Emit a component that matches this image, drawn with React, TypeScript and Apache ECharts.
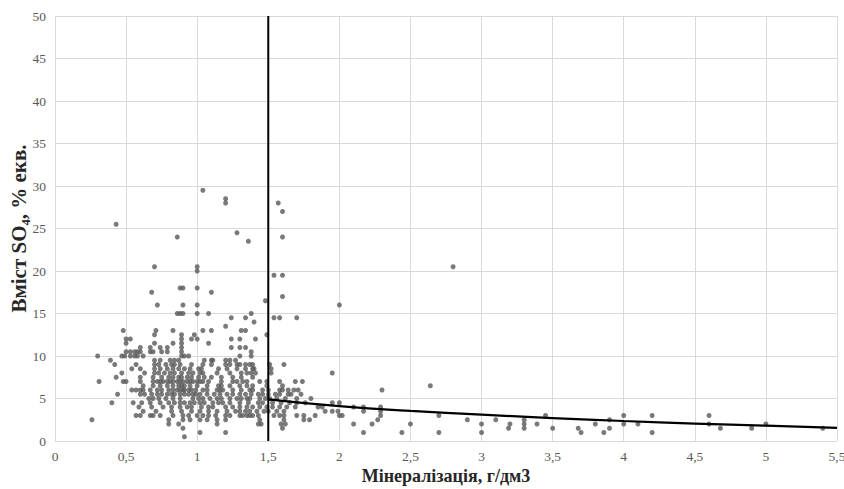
import React, { useEffect, useRef } from "react";
import * as echarts from "echarts";

// Tick settings
const xTicks = { min: 0, max: 5.5, interval: 0.5 };
const yTicks = { min: 0, max: 50, interval: 5 };

// Isolated high values [mineralization, SO4]
const highPoints: [number, number][] = [
  [1.04, 29.5], [1.2, 28.5], [1.2, 28], [1.57, 28], [1.6, 27],
  [0.43, 25.5], [1.28, 24.5], [0.86, 24], [1.6, 24], [1.36, 23.5],
  [0.7, 20.5], [1.0, 20.5], [2.8, 20.5], [1.0, 20], [1.54, 19.5], [1.6, 19.5],
];

// Main cluster, row by row: [SO4 value, mineralization values]
const clusterRows: [number, number[]][] = [
  [18, [0.88, 0.9, 1.0]],
  [17.5, [0.68, 1.1]],
  [17, [1.6]],
  [16.5, [1.48]],
  [16, [0.72, 0.9, 1.0, 2.0]],
  [15, [0.86, 0.88, 0.9, 1.0, 1.08, 1.38]],
  [14.5, [1.24, 1.34, 1.54, 1.58, 1.7]],
  [14, [1.4]],
  [13.5, [1.2]],
  [13, [0.48, 0.71, 0.83, 1.04, 1.1, 1.31, 1.34]],
  [12.5, [0.7, 0.89, 0.98, 1.49]],
  [12, [0.5, 0.53, 0.89, 0.96, 1.0, 1.24, 1.3, 1.41]],
  [11.5, [0.5, 0.7, 0.83, 0.89, 1.08]],
  [11, [0.6, 0.67, 0.74, 0.79, 0.89, 1.24, 1.3, 1.34]],
  [10.5, [0.5, 0.53, 0.56, 0.58, 0.6, 0.67, 0.69, 0.75, 0.79, 0.89, 1.38]],
  [10, [0.3, 0.47, 0.49, 0.53, 0.56, 0.58, 0.62, 0.89, 0.91, 0.94, 1.3, 1.38]],
  [9.5, [0.39, 0.7, 0.74, 0.81, 0.84, 0.87, 1.05, 1.1, 1.11, 1.2, 1.23, 1.27]],
  [9, [0.42, 0.57, 0.7, 0.73, 0.78, 0.82, 0.84, 0.88, 0.96, 1.04, 1.1, 1.2, 1.23, 1.28, 1.3, 1.34, 1.37, 1.39, 1.51, 1.61]],
  [8.5, [0.54, 0.6, 0.7, 0.74, 0.79, 0.83, 0.87, 0.91, 0.95, 1.01, 1.03, 1.15, 1.21, 1.28, 1.34, 1.39, 1.4, 1.52]],
  [8, [0.47, 0.63, 0.7, 0.73, 0.77, 0.81, 0.84, 0.89, 0.94, 0.97, 1.02, 1.04, 1.14, 1.23, 1.31, 1.35, 1.38, 1.41, 1.52, 1.95]],
  [7.5, [0.43, 0.6, 0.69, 0.75, 0.8, 0.83, 0.87, 0.89, 0.93, 0.96, 1.01, 1.05, 1.1, 1.17, 1.25, 1.31, 1.39]],
  [7, [0.31, 0.48, 0.5, 0.6, 0.69, 0.72, 0.74, 0.76, 0.79, 0.81, 0.83, 0.86, 0.88, 0.9, 0.93, 0.95, 0.97, 1.0, 1.02, 1.04, 1.08, 1.17, 1.25, 1.28, 1.32, 1.35, 1.44, 1.49, 1.58, 1.69, 1.74]],
  [6.5, [0.62, 0.69, 0.74, 0.79, 0.83, 0.87, 0.89, 0.91, 0.95, 1.0, 1.07, 1.15, 1.17, 1.23, 1.3, 1.35, 1.39, 1.49, 1.6, 2.64]],
  [6, [0.54, 0.57, 0.6, 0.62, 0.67, 0.72, 0.75, 0.8, 0.83, 0.86, 0.88, 0.9, 0.91, 0.94, 0.96, 0.99, 1.04, 1.07, 1.14, 1.16, 1.18, 1.25, 1.31, 1.37, 1.39, 1.46, 1.5, 1.58, 1.6, 1.64, 1.68, 1.71, 2.3]],
  [5.5, [0.44, 0.6, 0.63, 0.68, 0.72, 0.75, 0.79, 0.82, 0.84, 0.88, 0.91, 0.94, 0.97, 0.99, 1.02, 1.07, 1.12, 1.16, 1.21, 1.25, 1.3, 1.34, 1.38, 1.43, 1.46, 1.5, 1.55, 1.58, 1.64, 1.66, 1.73]],
  [5, [0.66, 0.69, 0.73, 0.78, 0.83, 0.88, 0.97, 1.01, 1.04, 1.09, 1.14, 1.17, 1.23, 1.28, 1.31, 1.35, 1.37, 1.44, 1.48, 1.51, 1.56, 1.62, 1.7, 1.8]],
  [4.5, [0.4, 0.55, 0.61, 0.67, 0.74, 0.8, 0.84, 0.88, 0.91, 0.95, 0.98, 1.02, 1.05, 1.11, 1.15, 1.18, 1.23, 1.3, 1.36, 1.43, 1.46, 1.53, 1.59, 1.65, 1.7, 1.76, 1.95, 2.0]],
  [4, [0.59, 0.68, 0.76, 0.82, 0.88, 0.93, 0.96, 1.03, 1.08, 1.11, 1.2, 1.25, 1.3, 1.35, 1.39, 1.44, 1.49, 1.53, 1.58, 1.63, 1.69, 1.85, 1.88, 2.1, 2.17, 2.29]],
  [3.5, [0.62, 0.71, 0.82, 0.89, 0.96, 1.02, 1.08, 1.14, 1.21, 1.27, 1.3, 1.34, 1.37, 1.42, 1.47, 1.5, 1.56, 1.61, 1.9, 1.95, 1.99, 2.17, 2.29]],
  [3, [0.57, 0.6, 0.67, 0.69, 0.74, 0.83, 0.9, 0.94, 1.0, 1.04, 1.08, 1.13, 1.2, 1.23, 1.3, 1.32, 1.35, 1.37, 1.39, 1.43, 1.54, 1.58, 1.61, 1.7, 1.75, 1.83, 2.0, 2.02, 2.29, 2.7, 3.45, 4.0, 4.2, 4.6]],
  [2.5, [0.26, 0.8, 0.9, 0.95, 1.02, 1.07, 1.14, 1.2, 1.44, 1.61, 1.75, 1.79, 2.27, 2.9, 3.1, 3.3, 3.9]],
  [2, [0.8, 0.87, 1.14, 1.43, 1.45, 1.59, 1.62, 2.1, 2.23, 2.5, 3.0, 3.2, 3.3, 3.39, 3.8, 4.0, 4.1, 4.6, 5.0]],
  [1.5, [0.9, 1.6, 3.19, 3.3, 3.5, 3.68, 3.9, 4.68, 4.9, 5.4]],
  [1, [1.02, 1.2, 2.17, 2.44, 2.7, 3.0, 3.7, 3.86, 4.2]],
  [0.5, [0.91]],
];

// Boundary line at 1.5 g/dm3
const boundaryX = [1.5, 1.5];
const boundaryY = [0, 50];

// Trend line above 1.5 g/dm3
const trendX = [1.5, 2, 2.5, 3, 3.5, 4, 4.5, 5, 5.5];
const trendY = [4.9, 4.1, 3.55, 3.1, 2.7, 2.35, 2.05, 1.8, 1.55];

const xName = "Мінералізація, г/дм3";
const yName = "Вміст SO₄, % екв.";

export default function App() {
  const ref = useRef<HTMLDivElement>(null);
  useEffect(() => {
    if (!ref.current) return;
    const chart = echarts.init(ref.current, undefined, { renderer: "svg" });
    const scatterData: [number, number][] = [...highPoints];
    clusterRows.forEach(([y, xs]) => xs.forEach((x) => scatterData.push([x, y])));
    const font = "'Liberation Serif', 'Times New Roman', serif";
    chart.setOption({
      animation: false,
      backgroundColor: "#ffffff",
      grid: {
        left: 55,
        right: 7,
        top: 16,
        bottom: 48,
        containLabel: false,
        outerBoundsMode: "none",
      },
      xAxis: {
        type: "value",
        min: xTicks.min,
        max: xTicks.max,
        interval: xTicks.interval,
        name: xName,
        nameLocation: "middle",
        nameGap: 26,
        nameMoveOverlap: false,
        nameTextStyle: { fontFamily: font, fontSize: 18, fontWeight: "bold", color: "#262626" },
        axisLine: { show: false },
        axisTick: { show: false },
        axisLabel: {
          fontFamily: font,
          fontSize: 13.5,
          color: "#595959",
          margin: 8,
          formatter: (v: number) => String(v).replace(".", ","),
        },
        splitLine: { show: true, lineStyle: { color: "#d9d9d9", width: 1 } },
      },
      yAxis: {
        type: "value",
        min: yTicks.min,
        max: yTicks.max,
        interval: yTicks.interval,
        name: yName,
        nameLocation: "middle",
        nameGap: 26,
        nameRotate: 90,
        nameMoveOverlap: false,
        nameTextStyle: { fontFamily: font, fontSize: 21, fontWeight: "bold", color: "#262626" },
        axisLine: { show: false },
        axisTick: { show: false },
        axisLabel: { fontFamily: font, fontSize: 13.5, color: "#595959", margin: 9 },
        splitLine: { show: true, lineStyle: { color: "#d9d9d9", width: 1 } },
      },
      series: [
        {
          type: "scatter",
          data: scatterData,
          symbol: "circle",
          symbolSize: 5,
          itemStyle: { color: "#595959" },
          silent: true,
        },
        {
          type: "line",
          data: boundaryX.map((x, i) => [x, boundaryY[i]]),
          symbol: "none",
          lineStyle: { color: "#000000", width: 2 },
          silent: true,
        },
        {
          type: "line",
          data: trendX.map((x, i) => [x, trendY[i]]),
          symbol: "none",
          smooth: true,
          lineStyle: { color: "#000000", width: 2.2 },
          silent: true,
        },
      ],
    });
    return () => chart.dispose();
  }, []);
  return (
    <div
      ref={ref}
      style={{ position: "fixed", left: 0, top: 0, width: 844, height: 489, background: "#fff" }}
    />
  );
}
